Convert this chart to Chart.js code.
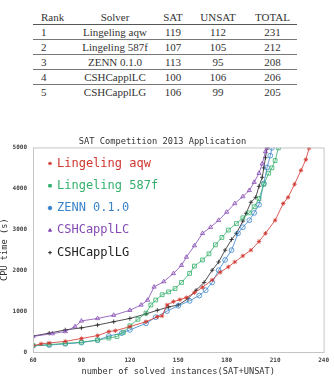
<!DOCTYPE html>
<html>
<head>
<meta charset="utf-8">
<script src="https://cdn.jsdelivr.net/npm/chart.js@4/dist/chart.umd.min.js"></script>
<style>
  body { margin: 0; background: #fff; width: 334px; height: 377px; overflow: hidden; position: relative; }
  table { position: absolute; left: 33px; top: 9px; width: 264px; border-collapse: collapse; table-layout: fixed;
    font-family: "Liberation Serif", serif; font-size: 11px; color: #333; }
  td, th { padding: 0; height: 14px; text-align: center; font-weight: normal; border-bottom: 1px solid #777; }
  th { height: 15px; border-bottom: 1px solid #555; }
  tr:last-child td { border-bottom: none; }
  td:first-child, th:first-child { text-align: left; padding-left: 8px; }
  #wrap { position: absolute; left: 0; top: 125px; }
</style>
</head>
<body>
<table id="tbl">
  <colgroup><col style="width:39px"><col style="width:86px"><col style="width:30px"><col style="width:60px"><col style="width:49px"></colgroup>
  <thead><tr id="head"></tr></thead>
  <tbody id="body"></tbody>
</table>
<div id="wrap"><canvas id="c" width="334" height="252"></canvas></div>
<script>
// table data
const tableHeader = ['Rank', 'Solver', 'SAT', 'UNSAT', 'TOTAL'];
const ranks = [1, 2, 3, 4, 5];
const solvers = ['Lingeling aqw', 'Lingeling 587f', 'ZENN 0.1.0', 'CSHCapplLC', 'CSHCapplLG'];
const satSolved = [119, 107, 113, 100, 106];
const unsatSolved = [112, 105, 95, 106, 99];
const totalSolved = [231, 212, 208, 206, 205];

// chart data: number of solved instances vs CPU time (s)
const aqwN    = [60, 65, 70, 80, 90, 100, 107, 111, 120, 130, 137, 140, 143, 147, 151, 155, 160, 165, 171, 176, 181, 185, 190, 195, 200, 204, 210, 215, 218, 222, 226, 229, 231];
const aqwTime = [150, 200, 220, 260, 330, 400, 500, 520, 620, 740, 860, 880, 1150, 1230, 1280, 1330, 1450, 1580, 1760, 1950, 2080, 2200, 2350, 2490, 2700, 2900, 3220, 3630, 3780, 4100, 4440, 4700, 4980];

const l587N    = [60, 70, 80, 90, 100, 107, 112, 116, 120, 125, 130, 133, 136, 140, 144, 148, 152, 157, 160, 165, 169, 173, 177, 181, 186, 190, 194, 197, 200, 203, 206, 208, 210, 212];
const l587Time = [160, 180, 210, 240, 290, 340, 380, 480, 640, 800, 950, 1150, 1270, 1400, 1470, 1550, 1700, 1920, 2100, 2250, 2400, 2620, 2800, 2980, 3140, 3280, 3400, 3550, 3750, 4100, 4370, 4500, 4680, 4990];

const zennN    = [60, 70, 80, 90, 100, 107, 115, 120, 130, 136, 143, 150, 157, 163, 167, 171, 175, 179, 183, 187, 190, 194, 197, 200, 203, 205, 207, 208];
const zennTime = [150, 170, 200, 230, 290, 390, 460, 540, 700, 850, 1000, 1130, 1250, 1380, 1510, 1700, 2000, 2250, 2490, 2900, 3050, 3220, 3400, 3600, 4120, 4510, 4800, 4990];

const lcN    = [60, 72, 80, 86, 90, 100, 110, 120, 127, 131, 135, 141, 147, 152, 155, 160, 165, 170, 175, 180, 185, 190, 194, 197, 200, 202, 204, 205];
const lcTime = [380, 450, 500, 620, 760, 820, 900, 1020, 1150, 1270, 1590, 1720, 1920, 2120, 2320, 2600, 2900, 3050, 3220, 3420, 3630, 3800, 3950, 4150, 4370, 4600, 4900, 4990];

const lgN    = [60, 70, 80, 90, 100, 110, 120, 130, 137, 144, 150, 156, 161, 166, 171, 175, 179, 183, 186, 190, 192, 195, 198, 200, 202, 203, 204, 205];
const lgTime = [390, 460, 540, 590, 660, 740, 820, 930, 1020, 1100, 1150, 1300, 1510, 1700, 2000, 2200, 2490, 2750, 2900, 3200, 3390, 3660, 3780, 4050, 4270, 4500, 4750, 4990];

const xTicks = [60, 90, 120, 150, 180, 210, 240];
const yTicks = [0, 1000, 2000, 3000, 4000, 5000];

// build table
document.getElementById('head').innerHTML = tableHeader.map((h) => `<th>${h}</th>`).join('');
document.getElementById('body').innerHTML = ranks.map((r, i) =>
  `<tr><td>${r}</td><td>${solvers[i]}</td><td>${satSolved[i]}</td><td>${unsatSolved[i]}</td><td>${totalSolved[i]}</td></tr>`
).join('');

function pts(xs, ys) {
  return xs.map((x, i) => ({ x, y: ys[i] }));
}

const series = [
  { label: 'Lingeling aqw', n: aqwN, t: aqwTime, color: '#d0352d', style: 'star', r: 2.2 },
  { label: 'Lingeling 587f', n: l587N, t: l587Time, color: '#33b06c', style: 'rect', r: 2.7 },
  { label: 'ZENN 0.1.0', n: zennN, t: zennTime, color: '#3a84c9', style: 'circle', r: 2.4 },
  { label: 'CSHCapplLC', n: lcN, t: lcTime, color: '#8449b3', style: 'triangle', r: 2.4 },
  { label: 'CSHCapplLG', n: lgN, t: lgTime, color: '#222222', style: 'cross', r: 2.2 },
];

const mono = '"DejaVu Sans Mono", monospace';

const boxAndLegend = {
  id: 'boxAndLegend',
  afterDraw(chart) {
    const { ctx, chartArea: a } = chart;
    ctx.save();
    ctx.strokeStyle = '#c4c4c4';
    ctx.lineWidth = 1;
    ctx.strokeRect(a.left + 0.5, a.top + 0.5, a.right - a.left, a.bottom - a.top);
    ctx.font = '12px ' + mono;
    ctx.textBaseline = 'middle';
    series.forEach((s, i) => {
      const y = a.top + 16 + i * 22.3;
      ctx.strokeStyle = s.color;
      ctx.fillStyle = s.color;
      Chart.helpers.drawPoint(ctx, { pointStyle: s.style, radius: 1.8, rotation: 0, borderWidth: 0.8 }, 50, y);
      ctx.fillText(s.label, 57, y);
    });
    ctx.restore();
  },
};

new Chart(document.getElementById('c'), {
  type: 'line',
  data: {
    datasets: series.map((s) => ({
      label: s.label,
      data: pts(s.n, s.t),
      borderColor: s.color,
      backgroundColor: 'rgba(0,0,0,0)',
      borderWidth: 0.8,
      pointStyle: s.style,
      pointRadius: s.r,
      pointBorderWidth: 0.8,
      pointBorderColor: s.color,
      pointBackgroundColor: 'rgba(255,255,255,0)',
      tension: 0,
    })),
  },
  options: {
    responsive: false,
    animation: false,
    devicePixelRatio: 1,
    layout: { padding: { left: 0, right: 9, top: 0, bottom: 0 } },
    plugins: {
      legend: { display: false },
      tooltip: { enabled: false },
      title: {
        display: true,
        text: 'SAT Competition 2013 Application',
        color: '#333',
        font: { family: mono, size: 8.7, weight: 'normal' },
        padding: { top: 12, bottom: 0 },
      },
    },
    scales: {
      x: {
        type: 'linear',
        min: 60,
        max: 240,
        afterBuildTicks: (scale) => { scale.ticks = xTicks.map((v) => ({ value: v })); },
        ticks: { color: '#444', font: { family: mono, size: 6, weight: 'bold' }, padding: 5, maxRotation: 0, callback: (v) => String(v) },
        grid: { display: false, drawTicks: false },
        border: { display: false },
        title: {
          display: true,
          text: 'number of solved instances(SAT+UNSAT)',
          color: '#333',
          font: { family: mono, size: 8.7 },
          padding: { top: 0, bottom: 0 },
        },
        afterFit: (scale) => { scale.height = 25; },
      },
      y: {
        min: 0,
        max: 5000,
        afterBuildTicks: (scale) => { scale.ticks = yTicks.map((v) => ({ value: v })); },
        ticks: { color: '#444', font: { family: mono, size: 6, weight: 'bold' }, padding: 6, callback: (v) => String(v) },
        grid: { display: false, drawTicks: false },
        border: { display: false },
        title: {
          display: true,
          text: 'CPU time (s)',
          color: '#333',
          font: { family: mono, size: 8.7 },
          padding: { top: 0, bottom: 0 },
        },
        afterFit: (scale) => { scale.width = 33; },
      },
    },
  },
  plugins: [boxAndLegend],
});
</script>
</body>
</html>
